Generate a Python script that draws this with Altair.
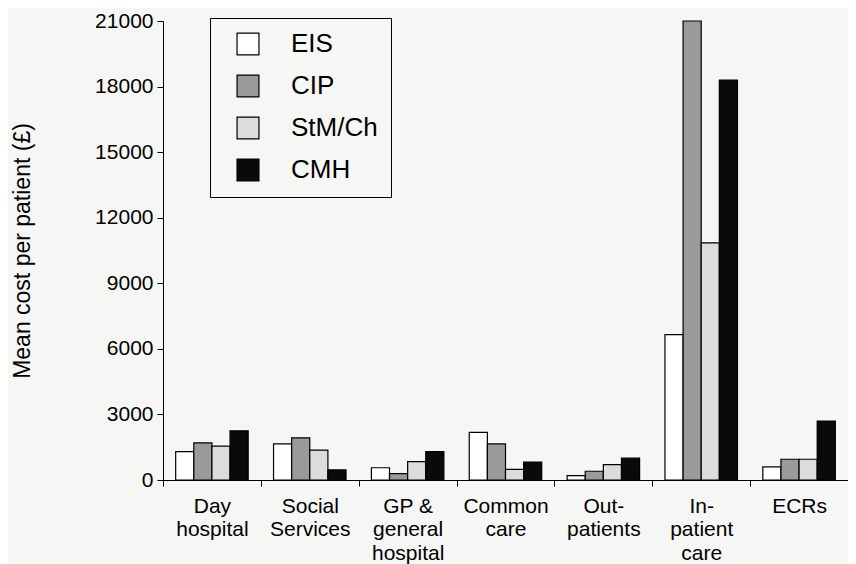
import altair as alt
import pandas as pd

categories = ["Day|hospital", "Social|Services", "GP &|general|hospital", "Common|care",
              "Out-|patients", "In-|patient|care", "ECRs"]
groups = ["EIS", "CIP", "StM/Ch", "CMH"]
eis = [1300, 1650, 560, 2180, 200, 6650, 600]
cip = [1700, 1930, 290, 1650, 400, 21000, 950]
stm = [1550, 1370, 840, 490, 700, 10850, 950]
cmh = [2250, 460, 1300, 820, 1000, 18300, 2700]
colors = ["#ffffff", "#9a9a9a", "#dcdcdc", "#0a0a0a"]

rows = []
for g, vals in zip(groups, [eis, cip, stm, cmh]):
    for c, v in zip(categories, vals):
        rows.append({"cat": c, "group": g, "value": v})
df = pd.DataFrame(rows)

FONT = "Liberation Sans"

chart = alt.Chart(df).mark_bar(stroke="black", strokeWidth=1.2).encode(
    x=alt.X("cat:N", sort=categories, title=None,
            scale=alt.Scale(paddingInner=0, paddingOuter=0),
            axis=alt.Axis(labelExpr="split(datum.label, '|')", labelAngle=0,
                          tickBand="extent", tickSize=6, labelFontSize=21,
                          labelLineHeight=23.5, labelPadding=9, labelColor="black",
                          domainColor="black", tickColor="black", labelFont=FONT,
                          labelBaseline="top")),
    xOffset=alt.XOffset("group:N", sort=groups,
                        scale=alt.Scale(paddingInner=0, paddingOuter=0.7)),
    y=alt.Y("value:Q", title="Mean cost per patient (£)",
            scale=alt.Scale(domain=[0, 21000], nice=False),
            axis=alt.Axis(values=list(range(0, 21001, 3000)), format="d", grid=False,
                          tickSize=6, labelFontSize=21, labelColor="black", labelPadding=4,
                          domainColor="black", tickColor="black", titleFontSize=23,
                          titleFontWeight="normal", titleColor="black", titlePadding=60,
                          labelFont=FONT, titleFont=FONT)),
    fill=alt.Fill("group:N", sort=groups,
                  scale=alt.Scale(domain=groups, range=colors),
                  legend=alt.Legend(title=None, orient="none", legendX=47, legendY=-3,
                                    symbolType="square", symbolSize=480,
                                    symbolStrokeColor="black", symbolStrokeWidth=1.2,
                                    labelFontSize=26, labelFont=FONT, labelColor="black",
                                    labelOffset=30, rowPadding=14, padding=13,
                                    strokeColor="black", fillColor="#f6f6f4",
                                    symbolOffset=12)),
).properties(
    width=685, height=459,
    autosize=alt.AutoSizeParams(type="none"),
    padding={"left": 155, "top": 13, "right": 0, "bottom": 84},
    background="#f6f6f4",
).configure_view(stroke=None)

chart.save("out.html", embed_options={"renderer": "svg", "actions": False})
